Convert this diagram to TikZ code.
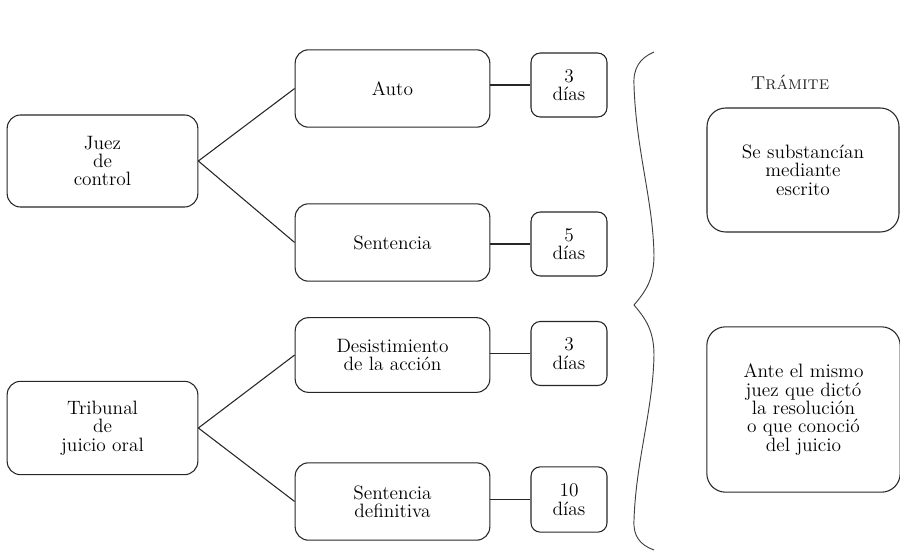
\documentclass[tikz,border=0pt]{standalone}
\usetikzlibrary{positioning}

\tikzset{
  caja/.style={draw=black!85, line width=0.8pt, rounded corners=10pt, align=center,
    font=\fontsize{14.5}{13.8}\selectfont, inner sep=2pt},
  dias/.style={caja, rounded corners=7pt, minimum width=57pt, minimum height=48pt},
  medio/.style={caja, minimum width=146pt},
  linea/.style={draw=black!85, line width=0.8pt}
}

\begin{document}
\begin{tikzpicture}[x=0.75pt, y=-0.75pt]
    \useasboundingbox (0,0) rectangle (900,553);

    % Dibuja los organos
    \node[caja, minimum width=143pt, minimum height=69pt] (juez) at (102.5,161) {Juez\\de\\control};
    \node[caja, minimum width=143pt, minimum height=70pt] (tribunal) at (102.5,428) {Tribunal\\de\\juicio oral};

    % Dibuja las resoluciones
    \node[medio, minimum height=58pt] (auto) at (392.5,88.5) {Auto};
    \node[medio, minimum height=58pt] (sentencia) at (392.5,242.5) {Sentencia};
    \node[medio, minimum height=56pt] (desist) at (392.5,355) {Desistimiento\\de la acci\'on};
    \node[medio, minimum height=58pt] (definitiva) at (392.5,501.5) {Sentencia\\definitiva};

    % Dibuja los plazos
    \node[dias] (d1) at (569,85) {3\\d\'{\i}as};
    \node[dias] (d2) at (569,244) {5\\d\'{\i}as};
    \node[dias] (d3) at (569,353.5) {3\\d\'{\i}as};
    \node[dias, minimum height=49pt] (d4) at (569,499.5) {10\\d\'{\i}as};

    % Dibuja el tramite
    \node[font=\fontsize{14}{13.8}\selectfont, text=black!85] (titulo) at (790,82) {\textsc{Tr\'amite}};
    \node[caja, rounded corners=14pt, minimum width=144pt, minimum height=93pt] (escrito) at (803,170)
        {Se substanc\'{\i}an\\mediante\\escrito};
    \node[caja, rounded corners=14pt, minimum width=145pt, minimum height=124pt] (mismo) at (803.5,409.5)
        {Ante el mismo\\juez que dict\'o\\la resoluci\'on\\o que conoci\'o\\del juicio};

    % Dibuja las conexiones
    \draw[linea] (juez.east) -- (auto.west);
    \draw[linea] (juez.east) -- (sentencia.west);
    \draw[linea] (tribunal.east) -- (desist.west);
    \draw[linea] (tribunal.east) -- (definitiva.west);
    \draw[linea] (d1.west -| auto.east) -- (d1.west);
    \draw[linea] (d2.west -| sentencia.east) -- (d2.west);
    \draw[linea] (d3.west -| desist.east) -- (d3.west);
    \draw[linea] (d4.west -| definitiva.east) -- (d4.west);

    % Dibuja la llave
    \draw[black!75, line width=0.7pt] (654,52) .. controls (640,58) and (633,68) .. (634,85)
        .. controls (636,150) and (653,200) .. (654,255)
        .. controls (654,280) and (645,292) .. (634,305)
        .. controls (645,318) and (654,330) .. (654,355)
        .. controls (653,410) and (636,460) .. (634,520)
        .. controls (633,536) and (640,545) .. (654,550);
\end{tikzpicture}
\end{document}
